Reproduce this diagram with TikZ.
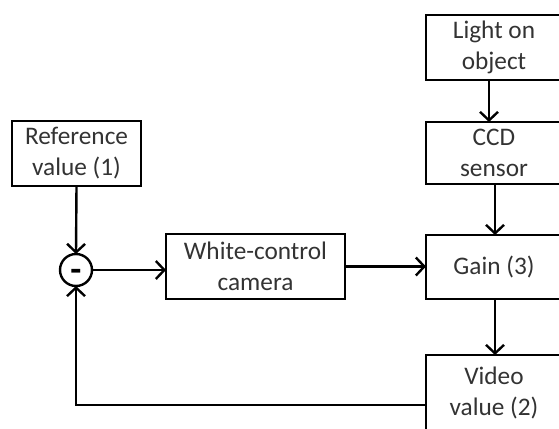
\documentclass[tikz,border=0pt]{standalone}
\usepackage{fontspec}
\setmainfont{Carlito}
\usetikzlibrary{arrows.meta}
\tikzset{
  blockbox/.style={draw=black, line width=2.4pt, rectangle, outer sep=0pt,
    inner sep=0pt, align=center, text=black!80,
    font=\fontsize{25.3}{31}\selectfont},
  flow/.style={line width=2.4pt, draw=black,
    -{Straight Barb[length=8.5pt,width=18pt]}},
  sumjoint/.style={draw=black, line width=2.4pt, circle, outer sep=0pt,
    inner sep=0pt, minimum size=32pt}
}
\begin{document}
\begin{tikzpicture}[x=1pt, y=-1pt]
  \useasboundingbox (0,0) rectangle (559,428);
  \clip (0,0) rectangle (559,428);

  % blocks
  \node[blockbox, minimum width=129pt, minimum height=65pt] (ref) at (76.5,153.5) {Reference\\value (1)};
  \node[sumjoint] (sum) at (76,270) {};
  \node[text=black, inner sep=0pt, font=\fontsize{36}{36}\selectfont\bfseries] (minus) at (76,275) {-};
  \node[blockbox, minimum width=179pt, minimum height=65pt] (cam) at (255.5,266.5) {White-control\\camera};
  \node[blockbox, minimum width=136pt, minimum height=65pt] (light) at (494,47.5) {Light on\\object};
  \node[blockbox, minimum width=136pt, minimum height=62pt] (ccd) at (494,153) {CCD\\sensor};
  \node[blockbox, minimum width=136pt, minimum height=64pt] (gain) at (494,267) {Gain (3)};
  \node[blockbox, minimum width=136pt, minimum height=75pt] (video) at (494,392.5) {Video\\value (2)};

  % signal flow
  \draw[flow] (ref.south) -- (sum.north);
  \draw[flow] (sum.east) -- (sum.east -| cam.west);
  \draw[flow] (cam.east) -- (cam.east -| gain.west);
  \draw[flow] ([xshift=-5pt]light.south) -- ([xshift=-5pt]ccd.north);
  \draw[flow] ([xshift=1pt]ccd.south) -- ([xshift=1pt]gain.north);
  \draw[flow] ([xshift=1pt]gain.south) -- ([xshift=1pt]video.north);
  \draw[flow] ([yshift=-12.5pt]video.west) -| (sum.south);
\end{tikzpicture}
\end{document}
